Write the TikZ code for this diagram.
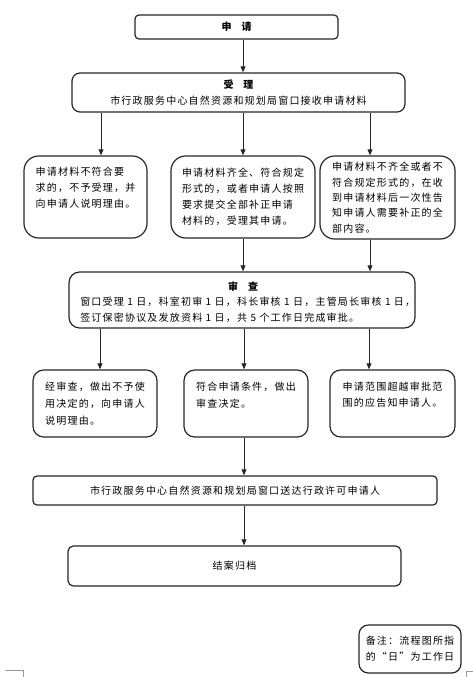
\documentclass[tikz,border=0pt]{standalone}
\usepackage{fontspec}
\setmainfont{Noto Sans CJK SC}[LetterSpace=12]
\usetikzlibrary{arrows.meta, positioning, calc}
\tikzset{
    flowBox/.style={
        draw=black!85,
        line width=0.9pt,
        rounded corners=6pt,
        fill=white,
        inner sep=0pt,
        align=left,
        font=\fontsize{7.5pt}{12pt}\selectfont
    },
    flowText/.style={
        inner sep=0pt,
        align=left,
        font=\fontsize{7.5pt}{12pt}\selectfont
    },
    flowArrow/.style={
        -{Triangle[length=4.5pt, width=3.6pt]},
        line width=0.75pt,
        draw=black!85
    },
    pageMark/.style={
        thin,
        draw=black!40
    }
}

\begin{document}
\begin{tikzpicture}[x=0.75pt, y=-0.75pt]

    \useasboundingbox (0,0) rectangle (473,677);

    % Column coordinates for the connectors
    \coordinate (cL) at (101, 0);   % left branch
    \coordinate (cM) at (243, 0);   % middle branch
    \coordinate (cR) at (370, 0);   % right branch

    % Main boxes
    \node[flowBox, rounded corners=3pt, minimum width=152.25pt, minimum height=18pt]
        (apply) at (236.5, 27) {\bfseries 申\quad 请};
    \node[flowBox, align=center, minimum width=249.75pt, minimum height=29.25pt]
        (accept) at (238.5, 92.5) {{\bfseries 受\quad 理}\\市行政服务中心自然资源和规划局窗口接收申请材料};

    % Second row
    \node[flowBox, rounded corners=11pt, minimum width=92.25pt, minimum height=61.5pt]
        (reject) at (85.5, 197) {申请材料不符合要\\求的，不予受理，并\\向申请人说明理由。\\[2pt]\mbox{}};
    \node[flowBox, rounded corners=11pt, minimum width=108pt, minimum height=61.5pt]
        (admit) at (243, 197) {申请材料齐全、符合规定\\形式的，或者申请人按照\\要求提交全部补正申请\\材料的，受理其申请。};
    \node[flowBox, rounded corners=11pt, minimum width=101.25pt, minimum height=62.25pt,
        font=\fontsize{7.5pt}{11.5pt}\selectfont]
        (amend) at (387.5, 197.5) {申请材料不齐全或者不\\符合规定形式的，在收\\到申请材料后一次性告\\知申请人需要补正的全\\部内容。};

    % Review box
    \node[flowBox, rounded corners=8pt, minimum width=259.5pt, minimum height=42pt]
        (review) at (242, 300) {};
    \node[flowText, font=\fontsize{7.5pt}{12pt}\selectfont\bfseries]
        (reviewTitle) at (243, 287) {审\quad 查};
    \node[flowText, anchor=west]
        (reviewText) at (80, 310) {窗口受理 1 日，科室初审 1 日，科长审核 1 日，主管局长审核 1 日，\\签订保密协议及发放资料 1 日，共 5 个工作日完成审批。};

    % Third row
    \node[flowBox, rounded corners=8pt, minimum width=93pt, minimum height=50.25pt,
        font=\fontsize{7.5pt}{12.75pt}\selectfont]
        (deny) at (95, 403.5) {经审查，做出不予使\\用决定的，向申请人\\说明理由。};
    \node[flowBox, rounded corners=8pt, minimum width=93pt, minimum height=50.25pt,
        font=\fontsize{7.5pt}{12.75pt}\selectfont]
        (grant) at (246, 403.5) {符合申请条件，做出\\审查决定。\\[0pt]};
    \node[flowBox, rounded corners=8pt, minimum width=93.75pt, minimum height=50.25pt,
        font=\fontsize{7.5pt}{12pt}\selectfont]
        (scope) at (392.5, 403.5) {申请范围超越审批范\\围的应告知申请人。\\[2pt]\mbox{}};

    % Delivery, archive and note
    \node[flowBox, align=center, rounded corners=3pt, minimum width=303pt, minimum height=21.75pt]
        (deliver) at (235, 490.5) {市行政服务中心自然资源和规划局窗口送达行政许可申请人};
    \node[flowBox, align=center, rounded corners=4pt, minimum width=249.75pt, minimum height=30pt]
        (archive) at (234.5, 566) {结案归档};
    \node[flowBox, rounded corners=7pt, minimum width=76.5pt, minimum height=36pt]
        (note) at (410, 649) {备注：流程图所指\\的“日”为工作日};

    % Connectors
    \draw[flowArrow] (apply.south -| cM) -- (accept.north -| cM);
    \draw[flowArrow] (accept.south -| cL) -- (reject.north -| cL);
    \draw[flowArrow] (accept.south -| cM) -- (admit.north -| cM);
    \draw[flowArrow] (accept.south -| cR) -- (amend.north -| cR);
    \draw[flowArrow] (admit.south -| cM) -- (review.north -| cM);
    \draw[flowArrow] (amend.south -| cR) -- (review.north -| cR);
    \draw[flowArrow] (review.south -| deny.north) ++(5,0) coordinate (dL) -- (deny.north -| dL);
    \draw[flowArrow] (review.south -| grant.north) ++(-2,0) coordinate (dM) -- (grant.north -| dM);
    \draw[flowArrow] (review.south -| scope.north) ++(-23.5,0) coordinate (dR) -- (scope.north -| dR);
    \draw[flowArrow] (grant.south -| dM) -- (deliver.north -| dM);
    \draw[flowArrow] (deliver.south -| dM) -- (archive.north -| dM);

    % Page corner marks
    \draw[pageMark] (5, 670) -- (23, 670) -- (23, 677);
    \draw[pageMark] (473, 671) -- (466, 671) -- (466, 677);

\end{tikzpicture}
\end{document}
